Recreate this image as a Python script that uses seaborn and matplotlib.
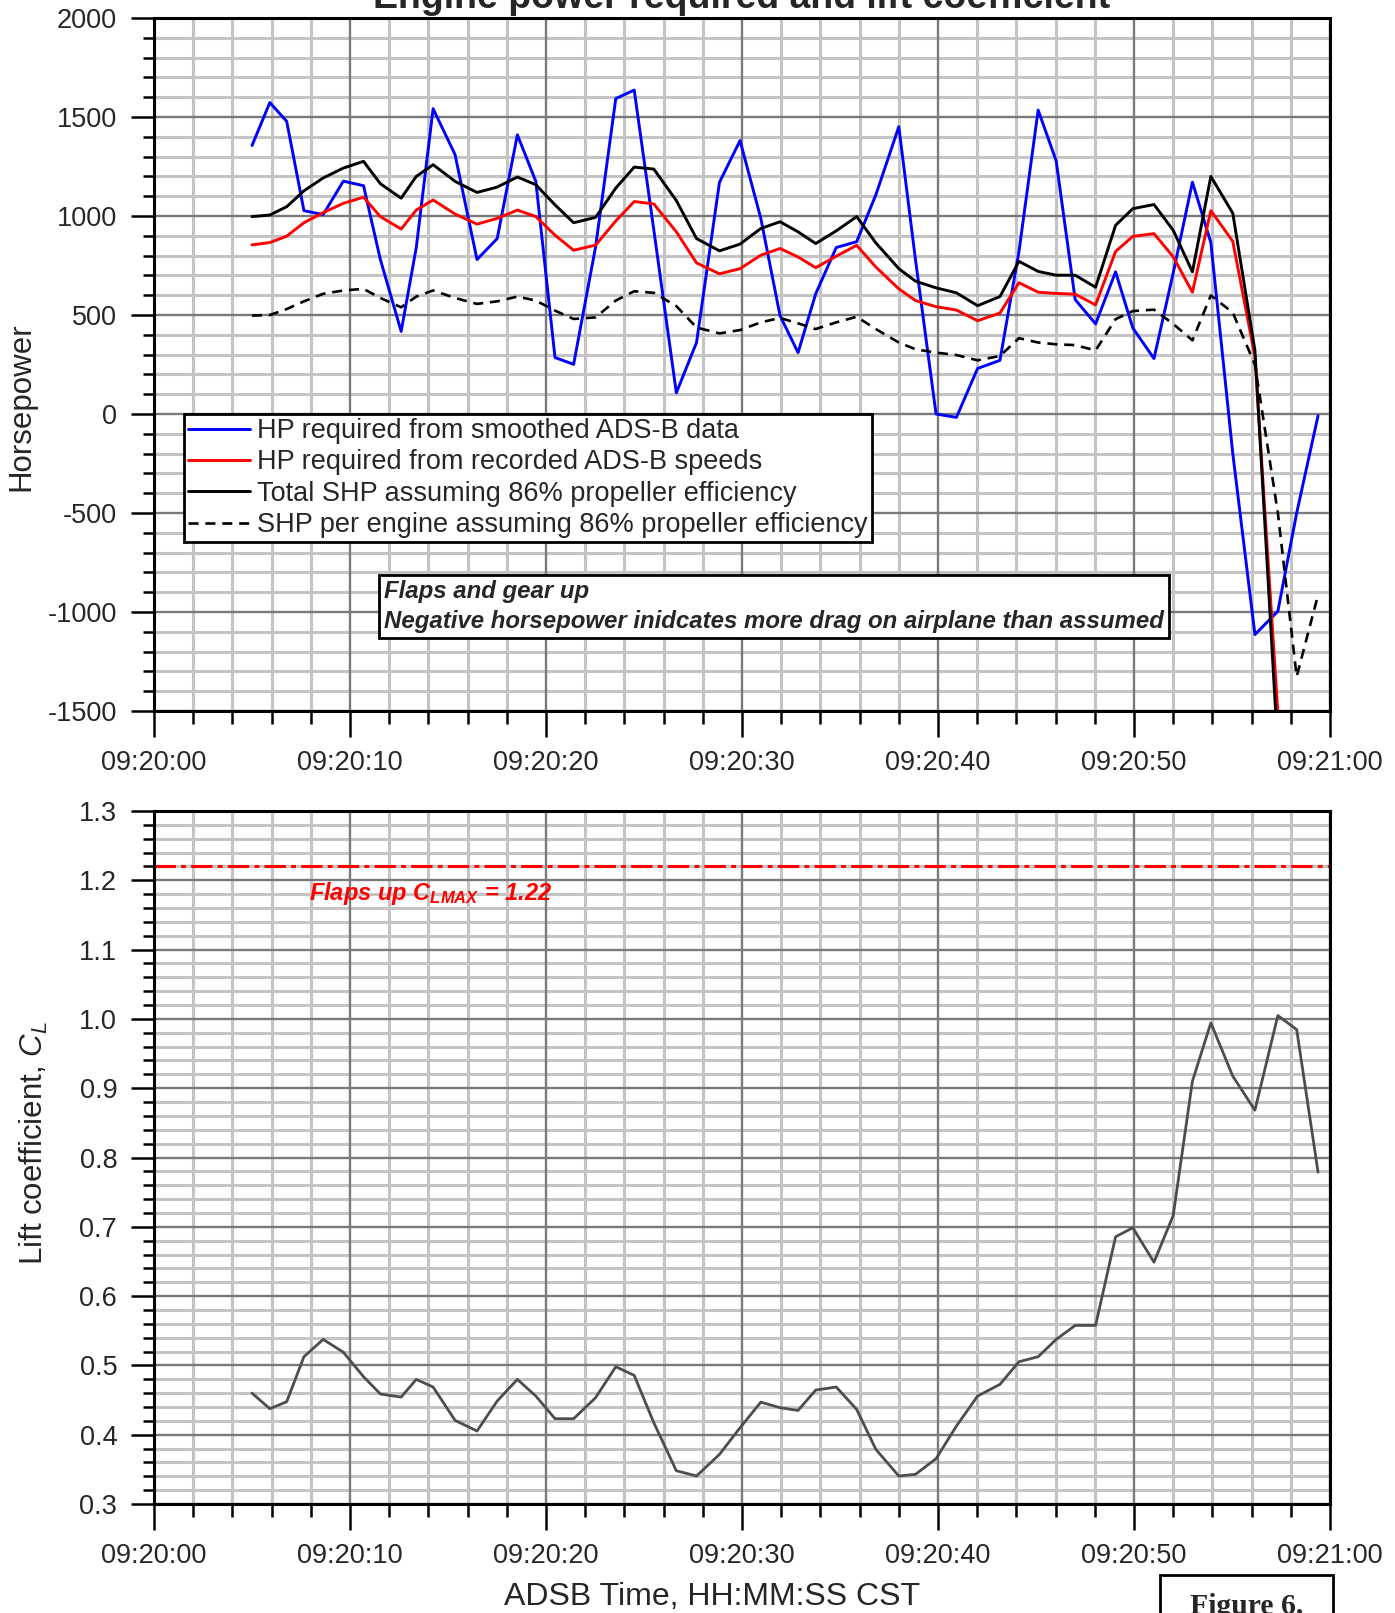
import matplotlib
matplotlib.use("Agg")
import matplotlib.pyplot as plt
import seaborn as sns
import pandas as pd
from matplotlib.ticker import MultipleLocator, FixedLocator, FixedFormatter
from matplotlib.patches import Rectangle

# ---------------- data (seconds after 09:20:00) ----------------
times = [5.0, 5.91, 6.77, 7.65, 8.63, 9.66, 10.69, 11.55, 12.61, 13.38,
         14.24, 15.36, 16.48, 17.51, 18.54, 19.48, 20.46, 21.41, 22.53, 23.56,
         24.5, 25.5, 26.65, 27.68, 28.85, 29.9, 30.96, 31.94, 32.86, 33.76,
         34.81, 35.85, 36.83, 38.0, 38.85, 39.9, 40.94, 42.02, 43.16, 44.13,
         45.11, 46.03, 47.0, 48.04, 49.06, 49.94, 51.02, 52.0, 52.98, 53.92,
         55.04, 56.17, 57.34, 58.3, 59.39]

hp_smoothed = [1356, 1573, 1478, 1027, 1007, 1176, 1153, 780, 417, 840,
               1542, 1310, 780, 886, 1410, 1175, 285, 251, 844, 1593,
               1636, 930, 107, 361, 1170, 1381, 988, 497, 310, 607,
               841, 870, 1107, 1451, 780, 0, -17, 230, 271, 820,
               1535, 1278, 578, 455, 718, 434, 280, 712, 1171, 866,
               -200, -1114, -996, -500, -9]

hp_recorded = [854, 866, 898, 966, 1017, 1064, 1095, 997, 934, 1030,
               1081, 1010, 959, 988, 1030, 997, 903, 827, 853, 975,
               1073, 1061, 920, 763, 708, 734, 802, 836, 793, 739,
               797, 852, 742, 632, 573, 542, 525, 471, 510, 663,
               615, 609, 605, 551, 821, 897, 911, 794, 615, 1027,
               872, 290, -1510]

shp_total = [997, 1005, 1047, 1127, 1192, 1242, 1276, 1163, 1090, 1200,
             1259, 1175, 1119, 1146, 1197, 1158, 1056, 966, 993, 1141,
             1247, 1237, 1078, 886, 824, 858, 937, 971, 920, 861,
             925, 997, 864, 734, 671, 637, 612, 547, 593, 771,
             720, 701, 701, 640, 953, 1037, 1058, 928, 718, 1200,
             1014, 321, -1700]

shp_engine = [497, 500, 530, 569, 607, 624, 632, 586, 539, 593,
              624, 586, 556, 569, 593, 573, 522, 480, 488, 573,
              620, 612, 545, 437, 407, 424, 463, 485, 458, 429,
              463, 491, 429, 361, 327, 310, 298, 271, 293, 383,
              361, 352, 348, 321, 479, 520, 527, 455, 372, 599,
              512, 249, -500, -1326, -914]

lift_coef = [0.460, 0.4375, 0.4476, 0.5125, 0.5375, 0.519, 0.4837, 0.4587, 0.4543, 0.4798,
             0.4688, 0.4207, 0.4053, 0.4486, 0.4798, 0.4558, 0.4231, 0.4231, 0.4534, 0.4981,
             0.4856, 0.4173, 0.348, 0.3404, 0.3716, 0.410, 0.447, 0.439, 0.435, 0.4644,
             0.4688, 0.4365, 0.3788, 0.3404, 0.3428, 0.3654, 0.4125, 0.4558, 0.4726, 0.5053,
             0.5125, 0.5375, 0.5577, 0.5577, 0.6856, 0.6986, 0.649, 0.7163, 0.910, 0.9942,
             0.9173, 0.8683, 1.0048, 0.9846, 0.7788]

cl_max = 1.22

xtick_seconds = [0, 10, 20, 30, 40, 50, 60]
xtick_labels = ["09:20:00", "09:20:10", "09:20:20", "09:20:30",
                "09:20:40", "09:20:50", "09:21:00"]

series_labels = ["HP required from smoothed ADS-B data",
                 "HP required from recorded ADS-B speeds",
                 "Total SHP assuming 86% propeller efficiency",
                 "SHP per engine assuming 86% propeller efficiency"]

title_text = "Engine power required and lift coefficient"
note_text = "Flaps and gear up\nNegative horsepower inidcates more drag on airplane than assumed"

# ---------------- style ----------------
sns.set_theme(style="white")
plt.rcParams['font.family'] = ['Liberation Sans', 'DejaVu Sans']
plt.rcParams['mathtext.fontset'] = 'custom'
plt.rcParams['mathtext.rm'] = 'Liberation Sans'
plt.rcParams['mathtext.it'] = 'Liberation Sans:italic'
plt.rcParams['mathtext.bf'] = 'Liberation Sans:bold'
plt.rcParams['mathtext.bfit'] = 'Liberation Sans:italic:bold'

W, H = 1395, 1613
fig = plt.figure(figsize=(W / 100, H / 100), dpi=100)
fig.patch.set_facecolor('white')

ax_left = 154 / W
ax_w = 1176 / W
ax_h = 693 / H
ax1 = fig.add_axes([ax_left, 1 - 711 / H, ax_w, ax_h])
ax2 = fig.add_axes([ax_left, 1 - 1504 / H, ax_w, ax_h])


def style_axes(ax, ymin, ymax, ymajor, yminor, fmt):
    ax.set_facecolor('white')
    ax.set_xlim(0, 60)
    ax.set_ylim(ymin, ymax)
    ax.xaxis.set_major_locator(FixedLocator(xtick_seconds))
    ax.xaxis.set_major_formatter(FixedFormatter(xtick_labels))
    ax.xaxis.set_minor_locator(MultipleLocator(2))
    ax.yaxis.set_major_locator(MultipleLocator(ymajor))
    ax.yaxis.set_minor_locator(MultipleLocator(yminor))
    ax.yaxis.set_major_formatter(plt.FuncFormatter(lambda v, p: fmt.format(v)))
    ax.grid(which='minor', color='#c4c4c4', lw=2.2, zorder=0.5)
    ax.grid(which='major', visible=False)
    # major grid drawn on top of minor grid
    yv = ymin
    while yv <= ymax + 1e-9:
        ax.axhline(yv, color='#7a7a7a', lw=1.7, zorder=0.8)
        yv += ymajor
    for xv in xtick_seconds:
        ax.axvline(xv, color='#7a7a7a', lw=1.7, zorder=0.8)
    ax.set_axisbelow(True)
    for sp in ax.spines.values():
        sp.set_visible(True)
        sp.set_linewidth(2.2)
        sp.set_color('black')
        sp.set_zorder(5)
    ax.tick_params(axis='x', which='major', direction='out', length=19, width=1.8,
                   pad=9, labelsize=19.5, color='black', bottom=True)
    ax.tick_params(axis='x', which='minor', direction='out', length=9, width=1.8,
                   color='black', bottom=True)
    ax.tick_params(axis='y', which='major', direction='out', length=16.5, width=1.8,
                   pad=10, labelsize=19.5, color='black', left=True)
    ax.tick_params(axis='y', which='minor', direction='out', length=8, width=1.8,
                   color='black', left=True)
    ax.set_xlabel("")
    ax.set_ylabel("")


style_axes(ax1, -1500, 2000, 500, 100, "{:.0f}")
style_axes(ax2, 0.3, 1.3, 0.1, 0.02, "{:.1f}")

# ---------------- top panel ----------------
n_eng = len(hp_recorded)
df_top = pd.DataFrame({"t": times, "smooth": hp_smoothed, "engine": shp_engine})
df_top2 = pd.DataFrame({"t": times[:n_eng], "recorded": hp_recorded, "total": shp_total})

sns.lineplot(data=df_top, x="t", y="smooth", ax=ax1, color='#0000ff', lw=2.1,
             label=series_labels[0], sort=False, estimator=None, zorder=3)
sns.lineplot(data=df_top2, x="t", y="recorded", ax=ax1, color='#ff0000', lw=2.1,
             label=series_labels[1], sort=False, estimator=None, zorder=3)
sns.lineplot(data=df_top2, x="t", y="total", ax=ax1, color='black', lw=2.1,
             label=series_labels[2], sort=False, estimator=None, zorder=3)
sns.lineplot(data=df_top, x="t", y="engine", ax=ax1, color='black', lw=1.9,
             linestyle=(0, (3.8, 2.6)), label=series_labels[3], sort=False,
             estimator=None, zorder=3)
ax1.set_xlabel("")
ax1.set_ylabel("")

handles, labels = ax1.get_legend_handles_labels()
leg = ax1.legend(handles, labels, loc='upper left', bbox_to_anchor=(0.0255, 0.4286),
                 borderaxespad=0, fontsize=19.5, frameon=True, fancybox=False,
                 edgecolor='black', facecolor='white', framealpha=1,
                 handlelength=2.3, handletextpad=0.25, labelspacing=0.2,
                 borderpad=0.15)
leg.get_frame().set_linewidth(2.0)
leg.set_zorder(6)

ax1.text((384 - 154) / 1176, 1 - (580 - 18) / 693, note_text,
         transform=ax1.transAxes, fontsize=17.3, fontweight='bold', style='italic',
         va='top', ha='left', linespacing=1.38, zorder=6,
         bbox=dict(boxstyle='square,pad=0.2', fc='white', ec='black', lw=2.0))

# ---------------- bottom panel ----------------
df_cl = pd.DataFrame({"t": times, "cl": lift_coef})
sns.lineplot(data=df_cl, x="t", y="cl", ax=ax2, color='#4d4d4d', lw=2.0,
             sort=False, estimator=None, zorder=3)
ax2.set_xlabel("")
ax2.set_ylabel("")
ax2.axhline(cl_max, color='#ff0000', lw=2.2, linestyle=(0, (7, 1.7, 1.6, 1.7)), zorder=4)
ax2.text(7.91, 1.171, r"Flaps up $\mathbfit{C}_{\mathbfit{LMAX}}$ = 1.22", color='#ff0000',
         fontsize=17, fontweight='bold', style='italic', ha='left', va='baseline', zorder=6)

# ---------------- figure texts ----------------
fig.text(742 / W, 1 - 8.5 / H, title_text, ha='center', va='baseline',
         fontsize=27, fontweight='bold')
fig.text(21 / W, 1 - 407 / H, "Horsepower", rotation=90, ha='center', va='center',
         fontsize=22.5)
fig.text(34 / W, 1 - 1143 / H, r"Lift coefficient, $\mathit{C}_{\mathit{L}}$", rotation=90,
         ha='center', va='center', fontsize=22.5)
fig.text(712 / W, 1 - 1597 / H, "ADSB Time, HH:MM:SS CST", ha='center', va='center',
         fontsize=23)

fig.patches.append(Rectangle((1160 / W, -0.01), (1333 - 1160) / W, 0.01 + (1 - 1575 / H),
                             transform=fig.transFigure, fc='white', ec='black', lw=2.0,
                             clip_on=False))
fig.text(1247 / W, 1 - 1614 / H, "Figure 6.", ha='center', va='baseline',
         fontsize=21.4, fontweight='bold', family=['Liberation Serif', 'DejaVu Serif'])

fig.savefig("out.png", dpi=100, facecolor='white')
